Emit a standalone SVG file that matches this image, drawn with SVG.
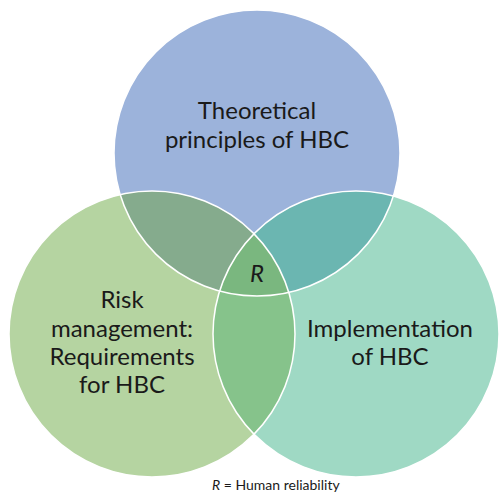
<svg xmlns="http://www.w3.org/2000/svg" width="499" height="495" viewBox="0 0 499 495">
  <defs>
    <clipPath id="clipTop"><circle cx="257" cy="153" r="143"/></clipPath>
    <clipPath id="clipLeft"><circle cx="152" cy="334" r="143"/></clipPath>
    <clipPath id="clipRight"><circle cx="356" cy="334" r="143"/></clipPath>
  </defs>
  <style>
    .label { font-family: Lato, "Open Sans", sans-serif; font-size: 24px; fill: #1a1a1a; text-anchor: middle; }
    .edge { fill: none; stroke: #ffffff; stroke-width: 1.5; }
    .note { font-family: Lato, "Open Sans", sans-serif; font-size: 14px; fill: #1a1a1a; }
  </style>
  <rect width="499" height="495" fill="#ffffff"/>

  <!-- circle fills -->
  <g id="theory">
    <circle cx="257" cy="153" r="143" fill="#9cb3db"/>
  </g>
  <g id="risk">
    <circle cx="152" cy="334" r="143" fill="#b5d4a1"/>
  </g>
  <g id="implementation">
    <circle cx="356" cy="334" r="143" fill="#9fd9c4"/>
  </g>

  <!-- pairwise and triple overlaps -->
  <g id="overlaps">
    <g clip-path="url(#clipTop)"><circle cx="152" cy="334" r="143" fill="#85ab8d"/></g>
    <g clip-path="url(#clipTop)"><circle cx="356" cy="334" r="143" fill="#6bb6b1"/></g>
    <g clip-path="url(#clipLeft)"><circle cx="356" cy="334" r="143" fill="#86c38b"/></g>
    <g clip-path="url(#clipTop)"><g clip-path="url(#clipLeft)"><circle cx="356" cy="334" r="143" fill="#7ab77f"/></g></g>
  </g>

  <!-- thin white outlines -->
  <g id="outlines">
    <circle class="edge" cx="257" cy="153" r="143"/>
    <circle class="edge" cx="152" cy="334" r="143"/>
    <circle class="edge" cx="356" cy="334" r="143"/>
  </g>

  <g id="labels">
    <text class="label" x="257" y="119">Theoretical</text>
    <text class="label" x="257" y="148">principles of HBC</text>
    <text class="label" x="122" y="308">Risk</text>
    <text class="label" x="122" y="337">management:</text>
    <text class="label" x="122" y="365">Requirements</text>
    <text class="label" x="122" y="393">for HBC</text>
    <text class="label" x="390" y="337">Implementation</text>
    <text class="label" x="390" y="365">of HBC</text>
    <text class="label" x="257" y="282" font-style="italic">R</text>
  </g>

  <text class="note" x="212" y="490"><tspan font-style="italic">R</tspan> = Human reliability</text>
</svg>
